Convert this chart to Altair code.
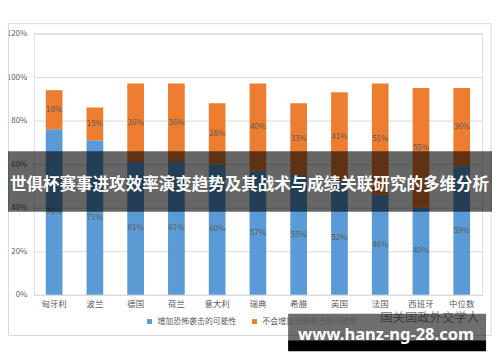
import altair as alt
import pandas as pd

categories = ["匈牙利", "波兰", "德国", "荷兰", "意大利", "瑞典", "希腊", "英国", "法国", "西班牙", "中位数"]
series_names = ["增加恐怖袭击的可能性", "不会增加恐怖袭击的可能性"]
increase = [76, 71, 61, 61, 60, 57, 55, 52, 46, 40, 59]
no_increase = [18, 15, 36, 36, 28, 40, 33, 41, 51, 55, 36]
y_ticks = [0, 0.2, 0.4, 0.6, 0.8, 1.0, 1.2]
banner_title = "世俱杯赛事进攻效率演变趋势及其战术与成绩关联研究的多维分析"
watermark_cn = "国关国政外交学人"
watermark_url = "www.hanz-ng-28.com"

rows = []
for i, c in enumerate(categories):
    rows.append({"category": c, "series": series_names[0], "order": 0, "value": increase[i] / 100})
    rows.append({"category": c, "series": series_names[1], "order": 1, "value": no_increase[i] / 100})
df = pd.DataFrame(rows)

FONT = "Noto Sans CJK SC"
GRAY = "#595959"

base = alt.Chart(df).transform_stack(
    stack="value", groupby=["category"], as_=["v0", "v1"], sort=[alt.SortField("order")]
).transform_calculate(mid="(datum.v0 + datum.v1) / 2")

xenc = alt.X("category:N", sort=categories, title=None,
             scale=alt.Scale(paddingInner=0.59, paddingOuter=0.295),
             axis=alt.Axis(labelAngle=0, domain=False, ticks=False, labelPadding=5,
                           labelColor=GRAY, labelFontSize=8.5, labelFont=FONT))

bars = base.mark_bar().encode(
    x=xenc,
    y=alt.Y("v0:Q", title=None, scale=alt.Scale(domain=[0, 1.2], nice=False),
            axis=alt.Axis(values=y_ticks, format=".0%", domain=False, ticks=False,
                          gridColor="#D9D9D9", labelColor=GRAY, labelFontSize=8,
                          labelPadding=7, labelFont=FONT)),
    y2="v1:Q",
    color=alt.Color("series:N", sort=series_names, title=None,
                    scale=alt.Scale(domain=series_names, range=["#5B9BD5", "#ED7D31"]),
                    legend=alt.Legend(orient="none", legendX=113, legendY=287, direction="horizontal",
                                      symbolType="square", symbolSize=25, labelFontSize=8,
                                      labelColor=GRAY, labelFont=FONT, columnPadding=14,
                                      labelOffset=4, symbolStrokeWidth=0)),
)

labels = base.mark_text(fontSize=8, color=GRAY, font=FONT, baseline="middle").encode(
    x=alt.X("category:N", sort=categories),
    y=alt.Y("mid:Q"),
    text=alt.Text("value:Q", format=".0%"),
)

one = pd.DataFrame({"a": [0]})

border = alt.Chart(one).mark_rect(fill=None, stroke="#D9D9D9", strokeWidth=1, clip=False).encode(
    x=alt.value(-25.5), x2=alt.value(462), y=alt.value(-10), y2=alt.value(305))

banner = alt.Chart(one).mark_rect(color="black", opacity=0.6, clip=False).encode(
    x=alt.value(-26), x2=alt.value(463), y=alt.value(119), y2=alt.value(180))
banner_text = alt.Chart(one).mark_text(color="white", fontSize=16.7, fontWeight="bold", font=FONT,
                                       align="center", baseline="middle", clip=False).encode(
    x=alt.value(218), y=alt.value(153), text=alt.value(banner_title))

wm_cn = alt.Chart(one).mark_text(color="#8a8a8a", fontSize=12.5, font=FONT, align="center",
                                 baseline="middle", clip=False).encode(
    x=alt.value(400), y=alt.value(287), text=alt.value(watermark_cn))
wm_box = alt.Chart(one).mark_rect(color="black", opacity=0.57, clip=False).encode(
    x=alt.value(257), x2=alt.value(457), y=alt.value(283), y2=alt.value(310))
wm_black = alt.Chart(one).mark_rect(color="black", opacity=1, clip=False).encode(
    x=alt.value(257), x2=alt.value(457), y=alt.value(310), y2=alt.value(321))
wm_text = alt.Chart(one).mark_text(color="white", fontSize=16.7, fontWeight="bold", font="Noto Sans",
                                   align="center", baseline="middle", clip=False).encode(
    x=alt.value(356), y=alt.value(305), text=alt.value(watermark_url))

chart = alt.layer(border, bars, labels, banner, banner_text, wm_cn, wm_box, wm_black, wm_text).properties(
    width=453, height=264,
    padding={"left": 26, "top": 24, "right": 10, "bottom": 58},
    autosize=alt.AutoSizeParams(type="none"),
).configure_view(stroke=None).configure(background="white")

chart.save("out.html", embed_options={"renderer": "svg", "actions": False})
